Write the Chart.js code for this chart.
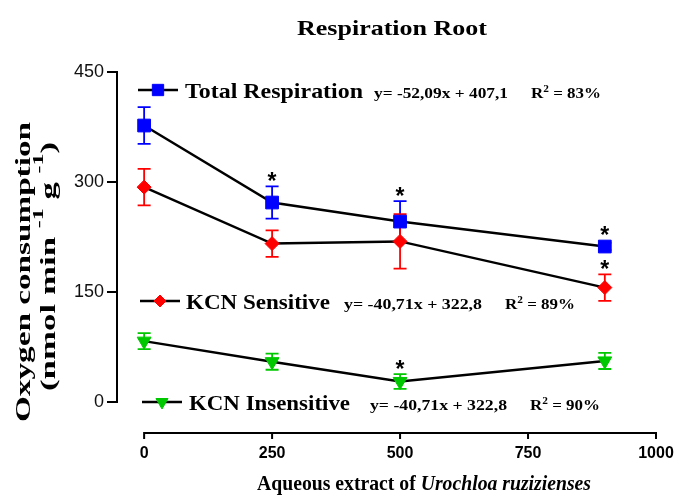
<!DOCTYPE html>
<html>
<head>
<meta charset="utf-8">
<script src="https://cdn.jsdelivr.net/npm/chart.js@4.4.1/dist/chart.umd.min.js"></script>
<style>
  html, body { margin: 0; padding: 0; background: #fff; }
  #wrap { width: 679px; height: 496px; }
</style>
</head>
<body>
<div id="wrap"><canvas id="respChart" width="679" height="496"></canvas></div>
<script>
// Valeurs
const doses = [0, 250, 500, 900];
const seriesNames = ['Total Respiration', 'KCN Sensitive', 'KCN Insensitive'];
const totalResp = [377, 272, 246, 212];
const totalErr = [25, 22, 28, 5];
const kcnSensitive = [293, 216, 219, 156];
const sensitiveErr = [25, 18, 37, 18];
const kcnInsensitive = [83, 55, 28, 56];
const insensitiveErr = [11, 11, 10, 11];
const equations = ['y= -52,09x + 407,1', 'y= -40,71x + 322,8', 'y= -40,71x + 322,8'];
const r2Values = ['83%', '89%', '90%'];
const xTicks = [0, 250, 500, 750, 1000];
const yTicks = [0, 150, 300, 450];
// [série, point] marqués d'un astérisque
const significant = [[0, 1], [0, 2], [0, 3], [1, 3], [2, 2]];

const values = [totalResp, kcnSensitive, kcnInsensitive];
const errors = [totalErr, sensitiveErr, insensitiveErr];
const colors = ['#0000ff', '#ff0000', '#00c800'];
const pointStyles = ['rect', 'rectRot', 'triangle'];
const pointRadii = [9, 7, 8];
const pointRotations = [0, 0, 180];

const SERIF = '"Liberation Serif", "Times New Roman", serif';
const SANS = '"Liberation Sans", Arial, sans-serif';

// dessine une suite de morceaux de texte, étirés à une largeur donnée
function drawRuns(ctx, runs, x, y, width) {
    let total = 0;
    runs.forEach(r => { ctx.font = r.font; r.w = ctx.measureText(r.t).width; total += r.w; });
    ctx.save();
    ctx.translate(x, y);
    ctx.scale(width ? width / total : 1, 1);
    ctx.textAlign = 'left';
    ctx.textBaseline = 'alphabetic';
    let cx = 0;
    runs.forEach(r => {
        ctx.font = r.font;
        ctx.fillText(r.t, cx, r.dy || 0);
        cx += r.w;
    });
    ctx.restore();
}

const legendSpots = [
    { x0: 138, y: 90, name: 185, nameW: 178, eq: 374, eqW: 134, r2: 531 },
    { x0: 140, y: 301, name: 186, nameW: 144, eq: 344, eqW: 138, r2: 505 },
    { x0: 142, y: 402, name: 189, nameW: 161, eq: 370, eqW: 137, r2: 530 }
];

const decorPlugin = {
    id: 'decor',
    beforeDatasetsDraw(chart) {
        const { ctx, scales: { x, y } } = chart;
        ctx.save();
        ctx.lineWidth = 1.8;
        values.forEach((vals, s) => {
            ctx.strokeStyle = colors[s];
            vals.forEach((v, i) => {
                const px = x.getPixelForValue(doses[i]);
                const top = y.getPixelForValue(v + errors[s][i]);
                const bot = y.getPixelForValue(v - errors[s][i]);
                ctx.beginPath();
                ctx.moveTo(px, top); ctx.lineTo(px, bot);
                ctx.moveTo(px - 6.5, top); ctx.lineTo(px + 6.5, top);
                ctx.moveTo(px - 6.5, bot); ctx.lineTo(px + 6.5, bot);
                ctx.stroke();
            });
        });
        ctx.restore();
    },
    afterDatasetsDraw(chart) {
        const { ctx, chartArea, scales: { x, y } } = chart;
        ctx.save();
        ctx.fillStyle = '#000';
        ctx.strokeStyle = '#000';

        // astérisques
        ctx.font = 'bold 23px ' + SANS;
        ctx.textAlign = 'center';
        ctx.textBaseline = 'alphabetic';
        significant.forEach(([s, i]) => {
            const px = x.getPixelForValue(doses[i]);
            const top = Math.min(y.getPixelForValue(values[s][i] + errors[s][i]),
                                 y.getPixelForValue(values[s][i]) - 7);
            ctx.fillText('*', px, top + 3);
        });

        // axe x décalé
        const axisY = chartArea.bottom + 31;
        ctx.lineWidth = 2;
        ctx.beginPath();
        ctx.moveTo(x.getPixelForValue(xTicks[0]), axisY);
        ctx.lineTo(x.getPixelForValue(xTicks[xTicks.length - 1]), axisY);
        xTicks.forEach(t => {
            const px = x.getPixelForValue(t);
            ctx.moveTo(px, axisY - 1);
            ctx.lineTo(px, axisY + 6);
        });
        ctx.stroke();

        // légendes dans le graphique
        legendSpots.forEach((spot, s) => {
            ctx.strokeStyle = '#000';
            ctx.lineWidth = 2.5;
            ctx.beginPath();
            ctx.moveTo(spot.x0, spot.y);
            ctx.lineTo(spot.x0 + 40, spot.y);
            ctx.stroke();
            ctx.fillStyle = colors[s];
            ctx.strokeStyle = colors[s];
            ctx.lineWidth = 1;
            Chart.helpers.drawPoint(ctx, {
                pointStyle: pointStyles[s], radius: pointRadii[s] - 1,
                rotation: pointRotations[s], borderWidth: 1
            }, spot.x0 + 20, spot.y);
            ctx.fillStyle = '#000';
            drawRuns(ctx, [{ t: seriesNames[s], font: 'bold 22px ' + SERIF }], spot.name, spot.y + 8, spot.nameW);
            drawRuns(ctx, [{ t: equations[s], font: 'bold 15px ' + SERIF }], spot.eq, spot.y + 8, spot.eqW);
            drawRuns(ctx, [
                { t: 'R', font: 'bold 15px ' + SERIF },
                { t: '2', font: 'bold 10px ' + SERIF, dy: -6 },
                { t: ' = ' + r2Values[s], font: 'bold 15px ' + SERIF }
            ], spot.r2, spot.y + 8, 70);
        });

        // titre
        drawRuns(ctx, [{ t: 'Respiration Root', font: 'bold 22px ' + SERIF }], 297, 35, 190);

        // titre de l'axe x
        drawRuns(ctx, [
            { t: 'Aqueous extract of ', font: 'bold 21px ' + SERIF },
            { t: 'Urochloa ruzizienses', font: 'italic bold 21px ' + SERIF }
        ], 257, 490, 334);

        // titre de l'axe y
        ctx.save();
        ctx.translate(30, 422);
        ctx.rotate(-Math.PI / 2);
        drawRuns(ctx, [{ t: 'Oxygen consumption', font: 'bold 22px ' + SERIF }], 0, 0, 300);
        ctx.restore();
        ctx.save();
        ctx.translate(55, 391);
        ctx.rotate(-Math.PI / 2);
        drawRuns(ctx, [
            { t: '(nmol min ', font: 'bold 22px ' + SERIF },
            { t: '-1', font: 'bold 15px ' + SERIF, dy: -12 },
            { t: ' g ', font: 'bold 22px ' + SERIF },
            { t: '-1', font: 'bold 15px ' + SERIF, dy: -12 },
            { t: ')', font: 'bold 22px ' + SERIF }
        ], 0, 0, 249);
        ctx.restore();

        ctx.restore();
    }
};

const datasets = values.map((vals, s) => ({
    label: seriesNames[s],
    data: doses.map((d, i) => ({ x: d, y: vals[i] })),
    borderColor: '#000',
    borderWidth: 2.5,
    pointStyle: pointStyles[s],
    pointRadius: pointRadii[s],
    pointRotation: pointRotations[s],
    pointBackgroundColor: colors[s],
    pointBorderColor: colors[s],
    pointBorderWidth: 1,
    tension: 0,
    fill: false,
    clip: false
}));

new Chart(document.getElementById('respChart').getContext('2d'), {
    type: 'line',
    data: { datasets: datasets },
    options: {
        responsive: false,
        animation: false,
        devicePixelRatio: 1,
        layout: { padding: { top: 72, right: 23, left: 0, bottom: 0 } },
        plugins: { legend: { display: false }, tooltip: { enabled: false } },
        scales: {
            x: {
                type: 'linear',
                min: -53,
                max: 1000,
                afterBuildTicks: s => { s.ticks = xTicks.map(v => ({ value: v })); },
                afterFit: s => { s.height = 94; s.paddingLeft = 0; s.paddingRight = 0; },
                grid: { display: false, drawTicks: false },
                border: { display: false },
                ticks: {
                    color: '#000',
                    padding: 42,
                    maxRotation: 0,
                    callback: v => String(v),
                    font: { family: SANS, size: 16, weight: 'bold' }
                }
            },
            y: {
                min: 0,
                max: 450,
                afterBuildTicks: s => { s.ticks = yTicks.map(v => ({ value: v })); },
                afterFit: s => { s.width = 117; s.paddingTop = 0; s.paddingBottom = 0; },
                grid: { drawOnChartArea: false, drawTicks: true, tickLength: 10, color: '#000', lineWidth: 2 },
                border: { display: true, color: '#000', width: 2 },
                ticks: {
                    color: '#111',
                    padding: 3,
                    font: { family: SANS, size: 18 }
                }
            }
        }
    },
    plugins: [decorPlugin]
});
</script>
</body>
</html>
